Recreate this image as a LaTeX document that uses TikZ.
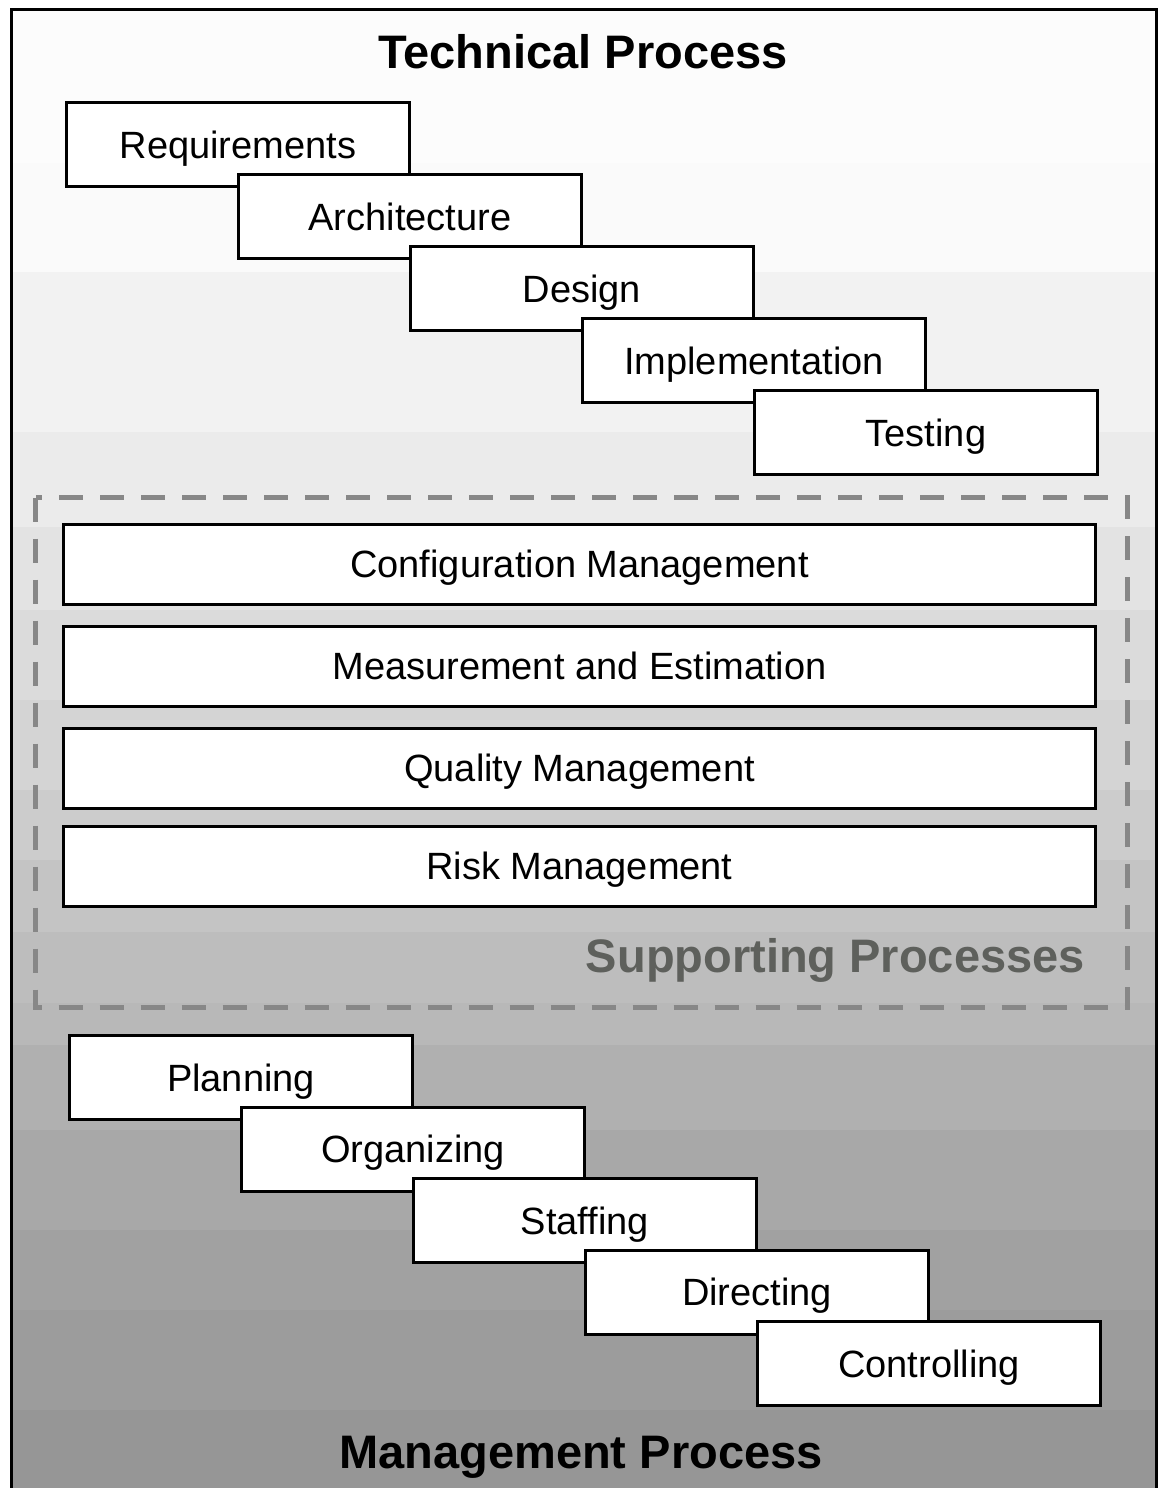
\documentclass[tikz,border=0pt]{standalone}
\usepackage{fontspec}
\setmainfont{Liberation Sans}
\definecolor{dashgray}{RGB}{135,135,135}
\definecolor{labelgray}{RGB}{94,96,92}
\tikzset{
    stagebox/.style = {draw, fill = white, line width = 3pt, minimum width = 343pt, minimum height = 84pt,
        inner sep = 0pt, text height = 27pt, text depth = 0pt, font = \fontsize{38}{40}\selectfont},
    supportbox/.style = {stagebox, minimum width = 1032pt, minimum height = 80pt},
    heading/.style = {anchor = base, inner sep = 0pt, font = \fontsize{47}{50}\selectfont\bfseries}
}
\begin{document}
\begin{tikzpicture}[x = 1pt, y = -1pt]
        \useasboundingbox (0,0) rectangle (1160,1488);
        \begin{scope}
            \foreach \a/\b/\g in {9.5/163/1, 163/272/2, 272/432/5, 432/527/8, 527/610/11, 610/700/14, 700/790/17, 790/860/20, 860/932/23, 932/1003/26, 1003/1045/28, 1045/1130/31, 1130/1230/34, 1230/1310/37, 1310/1410/39, 1410/1488/41}
                \fill[black!\g] (11.5,\a) rectangle (1156.5,\b);
            \draw[line width = 3pt] (11.5,1488) -- (11.5,9.5) -- (1156.5,9.5) -- (1156.5,1488);
        \end{scope}
        \node[heading] (techtitle) at (583,68) {Technical Process};
        \foreach \txt [count = \i from 0] in {Requirements, Architecture, Design, Implementation, Testing}
            \node[stagebox] (tech\i) at (238+172*\i,144.5+72*\i) {\txt};
        \draw[line width = 5pt, dashgray, dash pattern = on 24pt off 17pt] (35.5,497.5) rectangle (1127.5,1007.5);
        \foreach \y/\txt [count = \i] in {564/Configuration Management, 666/Measurement and Estimation, 768/Quality Management, 866/Risk Management}
            \node[supportbox] (supp\i) at (579.5,\y) {\txt};
        \node[heading, anchor = base east, labelgray] (supptitle) at (1085,972) {Supporting Processes};
        \foreach \txt [count = \i from 0] in {Planning, Organizing, Staffing, Directing, Controlling}
            \node[stagebox] (mgmt\i) at (241+172*\i,1077.5+71.6*\i) {\txt};
        \node[heading] (mgmttitle) at (581,1468) {Management Process};
    \end{tikzpicture}
\end{document}
